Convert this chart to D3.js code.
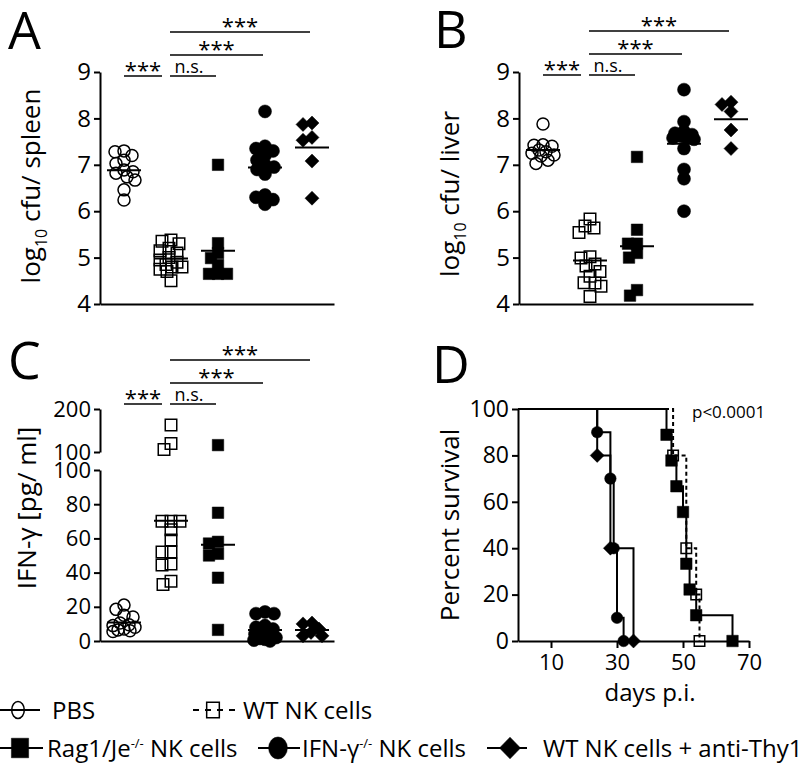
<!DOCTYPE html>
<html><head><meta charset="utf-8">
<script src="https://cdn.jsdelivr.net/npm/d3@7"></script>
<style>
body{margin:0;background:#fff}
svg{display:block}
text{font-family:"Open Sans","Liberation Sans",sans-serif;fill:#000}
</style>
</head><body>
<svg id="c" width="805" height="769"></svg>
<script>
// ---------------- DATA ----------------
const groups = ["PBS", "WT NK cells", "Rag1/Je-/- NK cells", "IFN-γ-/- NK cells", "WT NK cells + anti-Thy1"];

const cfuTicks = [4, 5, 6, 7, 8, 9];
const spleenPBS  = [7.3, 7.28, 7.2, 7.1, 7.03, 6.89, 6.85, 6.82, 6.74, 6.67, 6.46, 6.24];
const spleenWT   = [5.38, 5.35, 5.3, 5.2, 5.15, 5.1, 5.0, 4.95, 4.9, 4.85, 4.8, 4.8, 4.75, 4.7, 4.5];
const spleenRag  = [7.0, 5.31, 5.1, 4.99, 4.84, 4.65, 4.65, 4.65];
const spleenIFN  = [8.15, 7.4, 7.35, 7.3, 7.2, 7.1, 7.0, 6.95, 6.9, 6.8, 6.35, 6.3, 6.25, 6.15];
const spleenThy1 = [7.9, 7.87, 7.59, 7.53, 7.08, 6.28];

const liverPBS  = [7.88, 7.43, 7.42, 7.40, 7.32, 7.28, 7.25, 7.21, 7.19, 7.10, 7.03];
const liverWT   = [5.83, 5.68, 5.64, 5.54, 5.02, 4.99, 4.86, 4.82, 4.70, 4.60, 4.46, 4.45, 4.38, 4.16];
const liverRag  = [7.17, 5.6, 5.3, 5.3, 5.1, 5.0, 4.3, 4.18];
const liverIFN  = [8.62, 7.93, 7.72, 7.68, 7.65, 7.62, 7.6, 7.58, 7.55, 7.35, 6.9, 6.7, 6.0];
const liverThy1 = [8.35, 8.3, 8.15, 7.75, 7.35];

const ifnLowTicks  = [0, 20, 40, 60, 80, 100];
const ifnHighTicks = [100, 200];
const ifnPBS  = [21, 18.5, 15, 14, 10.5, 9.5, 9, 8, 7, 6.5, 6, 5.5];
const ifnWT   = [163, 120, 106, 70, 70, 70, 65, 59, 52, 52, 45, 44.5, 35, 33];
const ifnRag  = [116, 75, 58, 57, 51, 50, 37, 6.5];
const ifnIFN  = [17, 16, 16, 9, 8, 7, 5, 4, 3, 2, 1.5, 1, 0.5, 0];
const ifnThy1 = [10.5, 10, 7, 5, 3, 3];

const sigPairs  = [[0, 1], [1, 2], [1, 3], [1, 4]];
const sigLabels = ["***", "n.s.", "***", "***"];
const sigLevels = [0, 0, 1, 2];

const survTicks = [0, 20, 40, 60, 80, 100];
const dayTicks  = [10, 30, 50, 70];
const survWTDays   = [0, 47, 51, 54, 55];
const survWT       = [100, 80, 40, 20, 0];
const survRagDays  = [0, 45, 46.5, 48, 50, 51, 52, 54, 65];
const survRag      = [100, 88.9, 77.8, 66.7, 55.6, 33.3, 22.2, 11.1, 0];
const survIFNDays  = [0, 24, 28, 29, 30, 32];
const survIFN      = [100, 90, 70, 40, 10, 0];
const survThy1Days = [0, 24, 28, 35];
const survThy1     = [100, 80, 40, 0];
const pValueText = "p<0.0001";

// ---------------- STYLE ----------------
const markerTypes  = ["circle", "square", "square", "circle", "diamond"];
const markerFilled = [false, false, true, true, true];
const markerSize   = [12, 11.5, 11.5, 13, 14];
const FONT = "'Open Sans','Liberation Sans',sans-serif";
const fmt = d3.format("d");

const svg = d3.select("#c");

function drawMarker(g, x, y, k, size, sx = 1, sy = 1) {
  const t = markerTypes[k];
  let sym, area;
  if (t === "circle") { sym = d3.symbolCircle; area = Math.PI * size * size / 4; }
  else if (t === "square") { sym = d3.symbolSquare; area = size * size; }
  else { sym = d3.symbolSquare; area = size * size / 2; }
  let tr = `translate(${x},${y})`;
  if (sx !== 1 || sy !== 1) tr += ` scale(${sx},${sy})`;
  if (t === "diamond") tr += " rotate(45)";
  g.append("path")
    .attr("d", d3.symbol(sym, area)())
    .attr("transform", tr)
    .attr("fill", markerFilled[k] ? "#000" : "none")
    .attr("stroke", "#000")
    .attr("stroke-width", markerFilled[k] ? 0.5 : 1.5)
    .attr("vector-effect", "non-scaling-stroke");
}

function styleAxis(sel, fs = 24) {
  sel.attr("font-family", FONT).attr("font-size", fs);
  sel.selectAll(".domain").attr("stroke", "#000").attr("stroke-width", 2);
  sel.selectAll(".tick line").attr("stroke", "#000").attr("stroke-width", 2);
  sel.selectAll(".tick text").attr("fill", "#000");
}

// deterministic, bounded beeswarm (overlap allowed when the column is full)
function swarm(vals, yf, cx, d, maxOff) {
  const pts = vals.map(v => ({ v, y: yf(v) })).sort((a, b) => a.y - b.y);
  const placed = [];
  for (const p of pts) {
    let best = null, bestScore = -1;
    for (let k = 0; k <= 2 * maxOff; k++) {
      const off = k === 0 ? 0 : (k % 2 ? -1 : 1) * Math.ceil(k / 2);
      const xx = cx + off;
      const minD = placed.length ? d3.min(placed, q => Math.hypot(q.x - xx, q.y - p.y)) : Infinity;
      if (minD >= d) { best = xx; break; }
      if (minD > bestScore + 0.5) { bestScore = minD; best = xx; }
    }
    p.x = best;
    placed.push(p);
  }
  return placed;
}

function panelLetter(txt, x, y) {
  svg.append("text").attr("x", x).attr("y", y).attr("font-size", 52).text(txt);
}

function yLabel(parts, x, y) {
  const t = svg.append("text").attr("transform", `translate(${x},${y}) rotate(-90)`)
    .attr("text-anchor", "middle").attr("font-size", 26);
  parts.forEach(p => {
    if (p.sub) t.append("tspan").attr("font-size", 16).attr("dy", 7).text(p.t);
    else t.append("tspan").attr("dy", p.back ? -7 : 0).text(p.t);
  });
}

function dotPanel(opt) {
  const g = svg.append("g");
  const xs = d3.scalePoint().domain(groups).range([opt.x0 + 24, opt.x0 + 24 + 4 * 47]);
  const xa = d3.scaleLinear().range([opt.x0, opt.x0 + 234]);
  g.append("g").attr("transform", `translate(0,${opt.yBase})`)
    .call(d3.axisBottom(xa).tickValues([]).tickSizeOuter(0)).call(styleAxis);
  opt.drawYAxis(g);
  opt.series.forEach((vals, k) => {
    const cx = xs(groups[k]);
    const pts = swarm(vals, opt.y, cx, 8.5, 11);
    pts.forEach(p => drawMarker(g, p.x, p.y, k, markerSize[k]));
    const m = d3.mean(vals);
    g.append("line").attr("x1", cx - 17).attr("x2", cx + 17)
      .attr("y1", opt.y(m)).attr("y2", opt.y(m))
      .attr("stroke", "#000").attr("stroke-width", 2);
  });
  const levelY = [opt.top + 76, opt.top + 55, opt.top + 32];
  sigPairs.forEach(([a, b], i) => {
    const x1 = i === 0 ? xs(groups[a]) : xs(groups[a]) - 1;
    const x2 = i === 0 ? xs(groups[b]) - 9 : xs(groups[b]) - 2;
    const ly = levelY[sigLevels[i]];
    g.append("line").attr("x1", x1).attr("x2", x2).attr("y1", ly).attr("y2", ly)
      .attr("stroke", "#000").attr("stroke-width", 1.6);
    const isStar = sigLabels[i] === "***";
    g.append("text").attr("x", (x1 + x2) / 2 + (i === 1 ? -4 : 0))
      .attr("y", isStar ? ly + 2 : ly - 3)
      .attr("text-anchor", "middle")
      .attr("font-size", isStar ? 22 : 18)
      .attr("fill", isStar ? "#222" : "#000")
      .text(sigLabels[i]);
  });
}

// ---------- Panel A ----------
{
  const y = d3.scaleLinear().domain([4, 9]).range([304, 72]);
  dotPanel({
    x0: 100, top: 0, yBase: 304, y,
    series: [spleenPBS, spleenWT, spleenRag, spleenIFN, spleenThy1],
    drawYAxis: g => g.append("g").attr("transform", "translate(100,0)")
      .call(d3.axisLeft(y).tickValues(cfuTicks).tickFormat(fmt).tickSize(6).tickPadding(3).tickSizeOuter(0)).call(styleAxis)
  });
  panelLetter("A", 8, 49);
  yLabel([{ t: "log" }, { t: "10", sub: true }, { t: " cfu/ spleen", back: true }], 40, 186);
}
// ---------- Panel B ----------
{
  const y = d3.scaleLinear().domain([4, 9]).range([304, 72]);
  dotPanel({
    x0: 519, top: -1, yBase: 304, y,
    series: [liverPBS, liverWT, liverRag, liverIFN, liverThy1],
    drawYAxis: g => g.append("g").attr("transform", "translate(519,0)")
      .call(d3.axisLeft(y).tickValues(cfuTicks).tickFormat(fmt).tickSize(6).tickPadding(3).tickSizeOuter(0)).call(styleAxis)
  });
  panelLetter("B", 434, 48);
  yLabel([{ t: "log" }, { t: "10", sub: true }, { t: " cfu/ liver", back: true }], 459, 194);
}
// ---------- Panel C ----------
{
  const low = d3.scaleLinear().domain([0, 100]).range([641, 470]);
  const high = d3.scaleLinear().domain([100, 200]).range([452, 409]);
  const y = v => (v <= 100 ? low(v) : high(v));
  dotPanel({
    x0: 100, top: 328, yBase: 641, y,
    series: [ifnPBS, ifnWT, ifnRag, ifnIFN, ifnThy1],
    drawYAxis: g => {
      g.append("g").attr("transform", "translate(100,0)")
        .call(d3.axisLeft(low).tickValues(ifnLowTicks).tickFormat(fmt).tickSize(6).tickPadding(3).tickSizeOuter(0)).call(s => styleAxis(s, 22));
      g.append("g").attr("transform", "translate(100,0)")
        .call(d3.axisLeft(high).tickValues(ifnHighTicks).tickFormat(fmt).tickSize(6).tickPadding(3).tickSizeOuter(0)).call(s => styleAxis(s, 22));
    }
  });
  panelLetter("C", 8, 379);
  yLabel([{ t: "IFN-γ [pg/ ml]" }], 36, 508);
}
// ---------- Panel D ----------
{
  const g = svg.append("g");
  const x = d3.scaleLinear().domain([0, 70]).range([518, 749]);
  const y = d3.scaleLinear().domain([0, 100]).range([641, 409]);
  g.append("g").attr("transform", "translate(0,641)")
    .call(d3.axisBottom(x).tickValues(dayTicks).tickFormat(fmt).tickSize(7).tickPadding(6).tickSizeOuter(0)).call(s => styleAxis(s, 22));
  g.append("g").attr("transform", "translate(518,0)")
    .call(d3.axisLeft(y).tickValues(survTicks).tickFormat(fmt).tickSize(6).tickPadding(3).tickSizeOuter(0)).call(s => styleAxis(s, 23));
  const curves = [
    { k: 1, days: survWTDays, s: survWT, dash: "4,3" },
    { k: 2, days: survRagDays, s: survRag },
    { k: 3, days: survIFNDays, s: survIFN },
    { k: 4, days: survThy1Days, s: survThy1 }
  ];
  const line = d3.line().x(d => x(d[0])).y(d => y(d[1])).curve(d3.curveStepAfter);
  const dSizes = { 1: 10.5, 2: 11.5, 3: 11.5, 4: 14 };
  curves.forEach(c => {
    const pts = c.days.map((t, i) => [t, c.s[i]]);
    g.append("path").attr("d", line(pts)).attr("fill", "none").attr("stroke", "#000")
      .attr("stroke-width", 2).attr("stroke-dasharray", c.dash || null);
  });
  curves.forEach(c => {
    c.days.forEach((t, i) => { if (i > 0) drawMarker(g, x(t), y(c.s[i]), c.k, dSizes[c.k]); });
  });
  g.append("text").attr("x", 692).attr("y", 418).attr("font-size", 17).text(pValueText);
  g.append("text").attr("x", 650).attr("y", 701).attr("text-anchor", "middle").attr("font-size", 24).text("days p.i.");
  panelLetter("D", 432, 383);
  yLabel([{ t: "Percent survival" }], 459, 525);
}

// ---------- Legend ----------
function legendText(x, y, label) {
  const t = svg.append("text").attr("x", x).attr("y", y).attr("font-size", 24);
  const parts = label.split("-/-");
  parts.forEach((p, i) => {
    t.append("tspan").attr("dy", i > 0 ? 9 : 0).text(p);
    if (i < parts.length - 1) t.append("tspan").attr("dy", -9).attr("font-size", 13).text("-/-");
  });
}
const legendItems = [
  { k: 0, row: 0, l0: 0, l1: 40, m: 18, sx: 1.05, sy: 1.4, tx: 52 },
  { k: 1, row: 0, l0: 193, l1: 238, m: 213, sx: 1.1, sy: 1.35, tx: 243, dash: "6,6" },
  { k: 2, row: 1, l0: 0, l1: 43, m: 20, sx: 1.5, sy: 1.7, tx: 47 },
  { k: 3, row: 1, l0: 258, l1: 300, m: 278, sx: 1.45, sy: 1.7, tx: 302 },
  { k: 4, row: 1, l0: 487, l1: 527, m: 510, sx: 1.5, sy: 1.55, tx: 543 }
];
const rowY = [710, 748];
legendItems.forEach(it => {
  const yy = rowY[it.row];
  svg.append("line").attr("x1", it.l0).attr("x2", it.l1).attr("y1", yy).attr("y2", yy)
    .attr("stroke", "#000").attr("stroke-width", 2).attr("stroke-dasharray", it.dash || null);
  drawMarker(svg, it.m, yy, it.k, markerSize[it.k], it.sx, it.sy);
  legendText(it.tx, yy + 9, groups[it.k]);
});
</script>
</body></html>
